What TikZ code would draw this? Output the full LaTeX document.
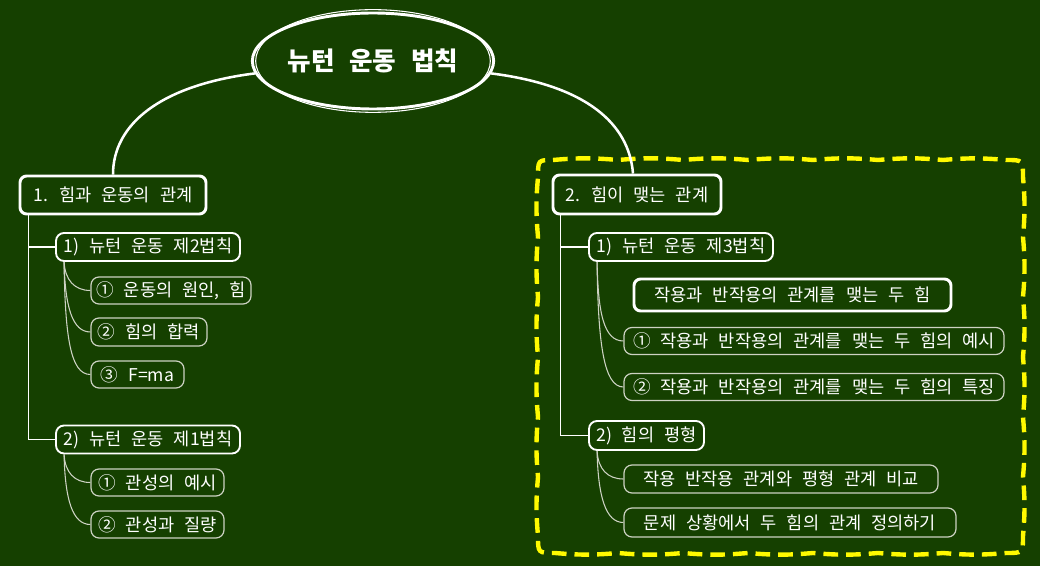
\documentclass[tikz,border=0pt]{standalone}
\usepackage{fontspec}
\setmainfont{Noto Sans CJK KR}[WordSpace=2.5]
\usetikzlibrary{calc,shapes.geometric}
\definecolor{bg}{RGB}{21,64,0}
\definecolor{thin}{RGB}{205,210,195}
\definecolor{yel}{RGB}{255,250,0}
\tikzset{
  base/.style={rounded corners=6pt, inner sep=0pt, text=white, font=\fontsize{13.2}{15}\selectfont, align=center},
  topbox/.style={base, draw=white, line width=2.2pt, rounded corners=5pt},
  midbox/.style={base, draw=white, line width=1.4pt},
  leafbox/.style={base, draw=thin, line width=0.9pt},
  mainline/.style={draw=white, line width=1.9pt},
  trunk/.style={draw=white, line width=1.1pt},
  subline/.style={draw=thin, line width=0.8pt},
  wv/.style={bend left=5},
}
\begin{document}
\begin{tikzpicture}[x=0.75pt,y=-0.75pt]
\fill[bg] (0,0) rectangle (1040,566);
\useasboundingbox (0,0) rectangle (1040,566);

% yellow dashed boundary (slightly wavy)
\draw[yel, line width=3.3pt, dash pattern=on 11pt off 6pt, line join=round]
  (553,160) to[wv] (618,160) to[wv] (683,160) to[wv] (748,160) to[wv] (813,160)
  to[wv] (878,160) to[wv] (943,160) to[wv] (1006,160)
  .. controls (1023,160) .. (1023,177)
  to[wv] (1023,237) to[wv] (1023,297) to[wv] (1023,357) to[wv] (1023,417)
  to[wv] (1023,477) to[wv] (1023,536)
  .. controls (1023,553) .. (1006,553)
  to[wv] (943,553) to[wv] (878,553) to[wv] (813,553) to[wv] (748,553)
  to[wv] (683,553) to[wv] (618,553) to[wv] (555,553)
  .. controls (538,553) .. (538,536)
  to[wv] (538,477) to[wv] (538,417) to[wv] (538,357) to[wv] (538,297)
  to[wv] (538,237) to[wv] (538,177)
  .. controls (538,160) .. (553,160) -- cycle;

% title
\node (title) [ellipse, draw=white, line width=2.2pt, minimum width=169.5pt, minimum height=72pt,
  inner sep=0pt, text=white, font=\fontsize{19.2}{21}\bfseries\selectfont] at (373,61) {뉴턴 운동 법칙};
\draw[white, line width=0.8pt] (title.center) ellipse [x radius=88pt, y radius=38.5pt];

% level 1
\node (n1) [topbox, minimum width=139.5pt, minimum height=28.5pt] at (113,195) {1. 힘과 운동의 관계};
\node (n2) [topbox, minimum width=126pt, minimum height=29.25pt] at (637,194.5) {2. 힘이 맺는 관계};

\draw[mainline] (title.186) .. controls +(-95,12) and +(0,-50) .. (n1.north);
\draw[mainline] (title.354) .. controls +(95,12) and +(-4,-50) .. ($(n2.north)+(-4,0)$);

% left branch
\node (l2a) [midbox, minimum width=138pt, minimum height=21pt] at (148,247) {1) 뉴턴 운동 제2법칙};
\node (c1) [leafbox, minimum width=120pt, minimum height=20.25pt] at (171,290.5) {① 운동의 원인, 힘};
\node (c2) [leafbox, minimum width=87pt, minimum height=21pt] at (149,332) {② 힘의 합력};
\node (c3) [leafbox, minimum width=69.75pt, minimum height=20.25pt] at (137.5,374.5) {③ F=ma};
\node (l2b) [midbox, minimum width=138pt, minimum height=21pt] at (148,439.5) {2) 뉴턴 운동 제1법칙};
\node (c4) [leafbox, minimum width=99.75pt, minimum height=20.25pt] at (157.5,482.5) {① 관성의 예시};
\node (c5) [leafbox, minimum width=99.75pt, minimum height=20.25pt] at (157.5,524.5) {② 관성과 질량};

\coordinate (t1) at ($(n1.south west)+(10,0)$);
\draw[trunk] (t1) |- (l2a.west);
\draw[trunk] (t1) |- (l2b.west);

\coordinate (sa) at ($(l2a.south west)+(9,0)$);
\draw[subline] (sa) .. controls +(1,18) and +(-16,0) .. (c1.west);
\draw[subline] (sa) .. controls +(1,45) and +(-18,0) .. (c2.west);
\draw[subline] (sa) .. controls +(1,75) and +(-20,0) .. (c3.west);
\coordinate (sb) at ($(l2b.south west)+(9,0)$);
\draw[subline] (sb) .. controls +(1,18) and +(-16,0) .. (c4.west);
\draw[subline] (sb) .. controls +(1,45) and +(-18,0) .. (c5.west);

% right branch
\node (l2c) [midbox, minimum width=138pt, minimum height=21pt] at (681,247) {1) 뉴턴 운동 제3법칙};
\node (fl) [topbox, minimum width=237.75pt, minimum height=24pt] at (792.5,295) {작용과 반작용의 관계를 맺는 두 힘};
\node (c6) [leafbox, minimum width=285pt, minimum height=20.25pt] at (814,341) {① 작용과 반작용의 관계를 맺는 두 힘의 예시};
\node (c7) [leafbox, minimum width=285pt, minimum height=20.25pt] at (814,387) {② 작용과 반작용의 관계를 맺는 두 힘의 특징};
\node (l2d) [midbox, minimum width=86.25pt, minimum height=21.75pt] at (646.5,435.5) {2) 힘의 평형};
\node (c8) [leafbox, minimum width=235.5pt, minimum height=21pt] at (781,479) {작용 반작용 관계와 평형 관계 비교};
\node (c9) [leafbox, minimum width=249pt, minimum height=21.75pt] at (790,522.5) {문제 상황에서 두 힘의 관계 정의하기};

\coordinate (t2) at ($(n2.south west)+(9,0)$);
\draw[trunk] (t2) |- (l2c.west);
\draw[trunk] (t2) |- (l2d.west);

\coordinate (sc) at ($(l2c.south west)+(9,0)$);
\draw[subline] (sc) .. controls +(1,50) and +(-20,0) .. (c6.west);
\draw[subline] (sc) .. controls +(1,80) and +(-20,0) .. (c7.west);
\coordinate (sd) at ($(l2d.south west)+(9,0)$);
\draw[subline] (sd) .. controls +(1,18) and +(-16,0) .. (c8.west);
\draw[subline] (sd) .. controls +(1,45) and +(-18,0) .. (c9.west);
\end{tikzpicture}
\end{document}
